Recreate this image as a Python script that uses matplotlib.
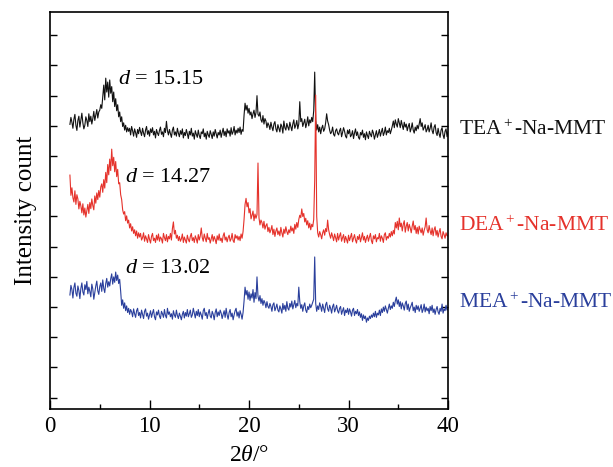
import numpy as np
import matplotlib
matplotlib.use("Agg")
import matplotlib.pyplot as plt
from matplotlib.ticker import MultipleLocator

plt.rcParams['font.family'] = ['Liberation Serif', 'DejaVu Serif']
plt.rcParams['mathtext.fontset'] = 'custom'
plt.rcParams['mathtext.rm'] = 'Liberation Serif'
plt.rcParams['mathtext.it'] = 'Liberation Serif:italic'

# 2theta scan, 0.1 deg step
two_theta = np.round(np.arange(2.0, 40.01, 0.1), 1)

# stacked intensities (arbitrary units, offset per sample), one row per degree
tea = [
    9.05, 9.28, 9.12, 8.92, 9.22, 9.38, 9.02, 8.85, 9.18, 9.32,
    8.96, 9.20, 9.42, 9.10, 8.90, 9.02, 9.30, 9.18, 8.98, 9.40,
    9.14, 9.32, 9.06, 9.24, 9.48, 9.18, 9.36, 9.54, 9.26, 9.46,
    9.52, 9.70, 9.58, 9.96, 10.35, 9.86, 10.58, 10.12, 10.45, 9.95,
    10.52, 10.08, 10.30, 9.80, 10.12, 9.64, 9.90, 9.50, 9.70, 9.30,
    9.46, 9.14, 9.30, 8.98, 9.10, 8.86, 9.02, 8.80, 8.94, 8.82,
    8.92, 8.70, 8.98, 8.84, 8.66, 8.90, 8.78, 8.62, 8.88, 8.74,
    8.95, 8.80, 8.68, 8.92, 8.76, 8.64, 8.86, 8.98, 8.72, 8.84,
    8.66, 8.90, 8.78, 8.94, 8.70, 8.82, 8.60, 8.88, 8.76, 8.68,
    8.85, 8.96, 8.72, 8.80, 8.64, 8.92, 8.78, 9.15, 8.84, 8.70,
    8.88, 8.74, 8.62, 8.86, 8.96, 8.70, 8.80, 8.66, 8.92, 8.76,
    8.64, 8.84, 8.72, 8.90, 8.60, 8.78, 8.68, 8.88, 8.74, 8.58,
    8.82, 8.70, 8.92, 8.66, 8.76, 8.56, 8.84, 8.72, 8.62, 8.86,
    8.68, 8.58, 8.80, 8.74, 8.90, 8.64, 8.76, 8.56, 8.82, 8.70,
    8.62, 8.84, 8.72, 8.58, 8.80, 8.66, 8.88, 8.74, 8.60, 8.78,
    8.70, 8.86, 8.62, 8.78, 8.92, 8.68, 8.82, 8.64, 8.90, 8.76,
    8.84, 8.66, 8.94, 8.72, 8.80, 8.98, 8.70, 8.86, 8.76, 8.92,
    8.78, 8.96, 8.72, 8.88, 8.82, 9.35, 9.75, 9.52, 9.68, 9.42,
    9.58, 9.36, 9.46, 9.24, 9.40, 9.52, 9.28, 9.44, 10.00, 9.38,
    9.32, 9.46, 9.20, 9.12, 9.34, 9.06, 9.24, 9.16, 8.94, 9.10,
    9.02, 8.88, 9.12, 8.96, 8.84, 9.06, 9.14, 8.90, 8.80, 9.04,
    8.92, 8.80, 9.06, 8.98, 8.76, 9.16, 8.94, 8.86, 9.08, 8.96,
    8.86, 9.12, 8.98, 8.84, 9.06, 9.20, 8.92, 9.02, 9.18, 8.90,
    9.06, 9.80, 9.14, 9.24, 8.98, 9.10, 9.22, 8.94, 9.08, 9.30,
    9.00, 9.20, 9.10, 9.28, 9.14, 9.50, 10.78, 9.20, 8.86, 9.04,
    8.80, 8.96, 8.74, 8.92, 9.02, 8.82, 8.90, 9.10, 9.40, 9.16,
    9.04, 8.86, 8.74, 8.80, 8.96, 8.72, 8.66, 8.84, 8.90, 8.76,
    8.70, 8.84, 8.92, 8.64, 8.78, 8.94, 8.82, 8.66, 8.60, 8.86,
    8.74, 8.88, 8.64, 8.70, 8.84, 8.58, 8.76, 8.90, 8.68, 8.80,
    8.62, 8.56, 8.78, 8.70, 8.86, 8.62, 8.74, 8.54, 8.80, 8.68,
    8.58, 8.82, 8.72, 8.64, 8.86, 8.76, 8.56, 8.70, 8.84, 8.62,
    8.74, 8.88, 8.66, 8.80, 8.92, 8.68, 8.78, 8.96, 8.70, 8.84,
    8.78, 8.92, 8.74, 8.86, 9.00, 9.16, 8.94, 9.20, 9.06, 8.96,
    9.24, 9.10, 8.94, 9.18, 9.02, 8.88, 9.12, 8.96, 9.06, 8.84,
    8.98, 9.08, 8.80, 8.92, 9.10, 8.86, 8.76, 8.96, 8.84, 9.02,
    8.90, 9.06, 9.24, 8.98, 9.10, 8.86, 8.94, 9.04, 8.80, 8.88,
    9.02, 8.80, 8.92, 9.10, 8.84, 8.74, 8.96, 9.04, 8.78, 8.68,
    8.92, 8.74, 8.62, 8.86, 8.94, 8.70, 8.58, 8.82, 8.90, 8.64,
    8.80,
]

dea = [
    7.37, 6.70, 6.95, 6.62, 6.48, 6.85, 6.40, 6.72, 6.58, 6.25,
    6.50, 6.35, 6.12, 6.42, 6.05, 6.28, 5.98, 6.18, 6.40, 6.10,
    6.46, 6.26, 6.58, 6.36, 6.22, 6.68, 6.44, 6.78, 6.56, 6.86,
    6.64, 6.98, 7.08, 6.80, 7.22, 6.94, 7.46, 7.12, 7.72, 7.38,
    7.90, 7.52, 8.23, 7.68, 7.96, 7.48, 7.82, 7.32, 7.56, 7.08,
    7.12, 6.72, 6.56, 6.22, 6.08, 6.16, 5.86, 6.02, 5.78, 5.88,
    5.62, 5.76, 5.52, 5.66, 5.44, 5.56, 5.36, 5.52, 5.28, 5.46,
    5.32, 5.44, 5.22, 5.30, 5.46, 5.18, 5.36, 5.26, 5.14, 5.40,
    5.24, 5.12, 5.34, 5.44, 5.20, 5.28, 5.14, 5.38, 5.22, 5.42,
    5.18, 5.32, 5.26, 5.12, 5.44, 5.30, 5.20, 5.40, 5.16, 5.34,
    5.26, 5.44, 5.22, 5.60, 5.82, 5.42, 5.54, 5.28, 5.38, 5.20,
    5.34, 5.18, 5.26, 5.42, 5.14, 5.32, 5.22, 5.12, 5.38, 5.24,
    5.16, 5.34, 5.44, 5.20, 5.30, 5.14, 5.36, 5.26, 5.12, 5.40,
    5.22, 5.36, 5.62, 5.30, 5.18, 5.42, 5.28, 5.16, 5.44, 5.24,
    5.30, 5.12, 5.26, 5.40, 5.18, 5.34, 5.24, 5.10, 5.36, 5.22,
    5.42, 5.20, 5.28, 5.14, 5.36, 5.46, 5.22, 5.32, 5.16, 5.30,
    5.38, 5.18, 5.26, 5.44, 5.20, 5.14, 5.40, 5.28, 5.36, 5.22,
    5.34, 5.20, 5.42, 5.28, 5.50, 5.90, 6.40, 6.60, 6.32, 6.46,
    6.12, 6.26, 5.92, 6.04, 6.18, 5.86, 6.08, 5.94, 6.06, 7.77,
    5.96, 5.72, 5.88, 5.80, 5.62, 5.84, 5.58, 5.70, 5.76, 5.50,
    5.64, 5.46, 5.56, 5.70, 5.40, 5.58, 5.34, 5.52, 5.62, 5.40,
    5.52, 5.36, 5.64, 5.46, 5.32, 5.58, 5.44, 5.66, 5.50, 5.40,
    5.56, 5.46, 5.68, 5.52, 5.62, 5.44, 5.74, 5.58, 5.80, 5.64,
    5.90, 6.04, 5.96, 6.25, 6.00, 6.10, 5.82, 5.94, 5.72, 5.86,
    5.62, 5.78, 5.56, 5.74, 5.66, 5.90, 7.20, 10.02, 6.00, 5.46,
    5.32, 5.50, 5.40, 5.26, 5.46, 5.56, 5.38, 5.60, 5.50, 5.88,
    5.56, 5.40, 5.28, 5.46, 5.34, 5.20, 5.42, 5.30, 5.16, 5.44,
    5.22, 5.36, 5.46, 5.18, 5.30, 5.40, 5.14, 5.34, 5.24, 5.12,
    5.38, 5.20, 5.32, 5.44, 5.16, 5.28, 5.40, 5.22, 5.12, 5.34,
    5.24, 5.40, 5.16, 5.30, 5.46, 5.22, 5.34, 5.14, 5.28, 5.38,
    5.18, 5.32, 5.44, 5.20, 5.10, 5.36, 5.26, 5.40, 5.16, 5.30,
    5.26, 5.44, 5.18, 5.36, 5.28, 5.14, 5.40, 5.46, 5.22, 5.34,
    5.28, 5.44, 5.32, 5.50, 5.36, 5.54, 5.42, 5.80, 5.62, 5.84,
    5.56, 5.95, 5.66, 5.78, 5.52, 5.74, 5.86, 5.48, 5.68, 5.80,
    5.52, 5.74, 5.62, 5.46, 5.68, 5.85, 5.56, 5.70, 5.44, 5.64,
    5.42, 5.68, 5.56, 5.46, 5.62, 5.38, 5.54, 5.66, 5.95, 5.56,
    5.46, 5.70, 5.52, 5.40, 5.62, 5.36, 5.56, 5.66, 5.38, 5.54,
    5.32, 5.48, 5.60, 5.34, 5.26, 5.50, 5.40, 5.28, 5.46, 5.36,
    5.35,
]

mea = [
    3.40, 3.72, 3.58, 3.30, 3.65, 3.80, 3.46, 3.36, 3.70, 3.55,
    3.28, 3.62, 3.80, 3.50, 3.40, 3.74, 3.58, 3.85, 3.44, 3.66,
    3.52, 3.34, 3.76, 3.60, 3.26, 3.48, 3.70, 3.86, 3.54, 3.42,
    3.68, 3.80, 3.52, 3.90, 3.62, 3.48, 3.78, 3.95, 3.66, 3.84,
    3.70, 3.94, 4.10, 3.76, 4.00, 3.82, 4.16, 3.88, 4.06, 3.78,
    3.92, 3.52, 3.06, 3.24, 2.96, 3.14, 2.88, 3.04, 2.82, 2.96,
    2.76, 2.92, 2.84, 2.68, 2.94, 2.78, 2.66, 2.88, 2.96, 2.72,
    2.82, 2.64, 2.90, 2.76, 2.62, 2.86, 2.94, 2.70, 2.80, 2.60,
    2.74, 2.88, 2.66, 2.80, 2.92, 2.68, 2.58, 2.84, 2.74, 2.90,
    2.70, 2.62, 2.86, 2.78, 2.66, 2.92, 2.72, 2.64, 2.96, 2.76,
    2.84, 2.68, 2.78, 2.60, 2.88, 2.74, 2.66, 2.90, 2.72, 2.62,
    2.80, 2.70, 2.58, 2.76, 2.86, 2.64, 2.82, 2.70, 2.92, 2.68,
    2.78, 2.90, 2.66, 2.74, 2.96, 2.80, 2.64, 2.86, 2.72, 2.92,
    2.68, 2.84, 2.74, 2.60, 2.88, 2.96, 2.72, 2.82, 2.62, 2.80,
    2.92, 2.70, 2.64, 2.86, 2.76, 2.58, 2.82, 2.94, 2.68, 2.84,
    2.72, 2.90, 2.80, 2.62, 2.76, 2.88, 2.66, 2.96, 2.74, 2.60,
    2.82, 2.92, 2.68, 2.80, 2.58, 2.74, 2.88, 2.96, 2.70, 2.84,
    2.64, 2.88, 2.76, 2.60, 2.82, 3.20, 3.66, 3.40, 3.55, 3.26,
    3.50, 3.22, 3.44, 3.30, 3.58, 3.16, 3.48, 3.28, 4.00, 3.36,
    3.20, 3.38, 3.12, 3.28, 3.06, 3.22, 3.14, 2.98, 3.18, 3.02,
    2.96, 3.12, 3.02, 2.86, 3.08, 3.14, 2.88, 2.98, 3.10, 2.90,
    2.84, 3.04, 2.94, 2.80, 3.12, 2.92, 3.06, 2.86, 3.18, 2.96,
    2.90, 3.12, 3.00, 3.20, 2.94, 3.08, 3.22, 2.98, 3.12, 3.04,
    3.66, 3.18, 2.96, 3.08, 2.86, 3.04, 3.14, 2.90, 2.82, 3.02,
    2.92, 3.10, 2.98, 3.06, 3.16, 3.26, 4.66, 3.12, 2.86, 3.04,
    2.92, 3.14, 3.02, 2.86, 3.10, 2.96, 2.82, 3.08, 3.16, 2.94,
    2.86, 3.06, 2.96, 2.80, 3.02, 3.10, 2.84, 2.94, 3.06, 2.88,
    2.80, 2.96, 3.02, 2.76, 2.88, 2.98, 2.72, 2.90, 2.82, 2.96,
    2.76, 2.94, 2.84, 2.70, 2.90, 2.96, 2.72, 2.86, 2.78, 2.92,
    2.72, 2.84, 2.66, 2.78, 2.56, 2.74, 2.62, 2.70, 2.50, 2.64,
    2.56, 2.70, 2.62, 2.74, 2.66, 2.80, 2.68, 2.86, 2.66, 2.80,
    2.74, 2.90, 2.72, 2.94, 2.82, 3.00, 2.86, 3.04, 2.92, 2.80,
    2.96, 3.10, 2.92, 3.04, 2.96, 3.16, 3.02, 3.20, 3.33, 3.10,
    3.24, 3.02, 3.18, 2.94, 3.14, 3.04, 2.90, 3.12, 3.20, 2.92,
    3.10, 2.86, 2.98, 3.06, 3.16, 2.88, 3.00, 2.82, 3.06, 2.92,
    3.04, 2.86, 2.96, 3.08, 2.82, 2.92, 3.10, 2.84, 3.00, 2.88,
    2.96, 2.78, 3.02, 2.88, 3.06, 2.82, 2.94, 2.76, 2.92, 3.02,
    2.84, 2.76, 2.96, 2.86, 3.10, 2.80, 2.94, 2.88, 3.06, 2.90,
    2.95,
]

names = ['TEA$^+$-Na-MMT', 'DEA$^+$-Na-MMT', 'MEA$^+$-Na-MMT']
d_labels = ['15.15', '14.27', '13.02']
colors = ['#111111', '#e5322b', '#2a3f9c']

fig = plt.figure(figsize=(6.13, 4.67), dpi=100)
ax = fig.add_axes([0.0816, 0.1242, 0.6493, 0.8501])

for y, c in zip([tea, dea, mea], colors):
    ax.plot(two_theta, y, color=c, lw=0.8)

ax.set_xlim(0, 40)
ax.set_ylim(-0.374, 12.77)
ax.xaxis.set_major_locator(MultipleLocator(10))
ax.xaxis.set_minor_locator(MultipleLocator(5))
ax.yaxis.set_major_locator(MultipleLocator(1))
ax.set_yticklabels([])
ax.tick_params(axis='x', which='major', direction='in', length=6.5, width=1.0, labelsize=16.5, pad=5)
ax.tick_params(axis='x', which='minor', direction='in', length=3.3, width=1.0)
ax.tick_params(axis='y', direction='in', length=5, width=1.0, left=True, right=True)
for s in ax.spines.values():
    s.set_linewidth(1.2)

ax.set_xlabel(r'2$\it{\theta}$/°', fontsize=17, labelpad=6)
ax.set_ylabel('Intensity count', fontsize=18, labelpad=6)

# d-spacing annotations
ax.text(6.8, 10.55, r'$\it{d}$ = ' + d_labels[0], fontsize=16, va='center')
ax.text(7.5, 7.30, r'$\it{d}$ = ' + d_labels[1], fontsize=16, va='center')
ax.text(7.5, 4.29, r'$\it{d}$ = ' + d_labels[2], fontsize=16, va='center')

# sample names outside the plot on the right
for name, c, yy in zip(names, colors, [8.86, 5.68, 3.14]):
    ax.text(41.1, yy, name, color=c, fontsize=15.5, va='center', clip_on=False)

fig.savefig('out.png', dpi=100)
